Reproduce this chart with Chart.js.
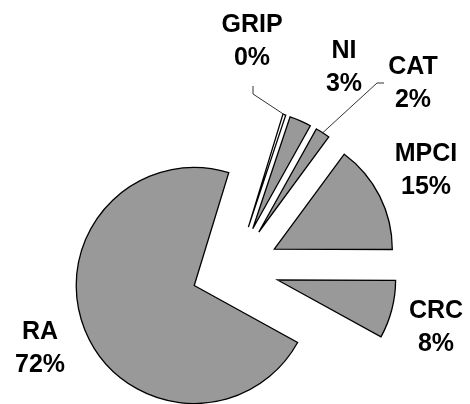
<!DOCTYPE html>
<html>
<head>
<meta charset="utf-8">
<script src="https://cdn.jsdelivr.net/npm/chart.js@4/dist/chart.umd.min.js"></script>
<style>
  html, body { margin: 0; padding: 0; background: #ffffff; }
  #wrap { width: 470px; height: 404px; position: relative; }
</style>
</head>
<body>
<div id="wrap"><canvas id="pie" width="470" height="404"></canvas></div>
<script>
// Share of premium by insurance plan
const plans = ['GRIP', 'NI', 'CAT', 'MPCI', 'CRC', 'RA'];
const shares = [0.4, 3, 2, 15, 8, 72];

// Slice fills: the near-empty GRIP wedge stays white
const sliceFills = ['#ffffff', '#999999', '#999999', '#999999', '#999999', '#999999'];

// Centre of each label block (name line, percent line below it)
const labelCenters = [[252, 25], [344, 51], [413, 67], [426, 154], [436, 311], [40, 332]];
// Leader lines from the wedge tip to the label: list of bend points per plan
const leaders = { GRIP: [[253, 94], [253, 86]], CAT: [[377, 83], [384, 83]] };

const EXPLODE = 44;      // how far every wedge is pulled out from the centre
const RADIUS = 118;
const LINE_GAP = 33;

// Pull each wedge out along its own bisector
const explodePlugin = {
  id: 'explode',
  beforeDatasetDraw(chart, args) {
    const ctx = chart.ctx;
    args.meta.data.forEach(arc => {
      const mid = (arc.startAngle + arc.endAngle) / 2;
      ctx.save();
      ctx.translate(Math.cos(mid) * EXPLODE, Math.sin(mid) * EXPLODE);
      arc.draw(ctx);
      ctx.restore();
    });
    return false;
  }
};

// Category name + rounded percentage, with leader lines for the thin wedges
const labelPlugin = {
  id: 'sliceLabels',
  afterDraw(chart) {
    const ctx = chart.ctx;
    const arcs = chart.getDatasetMeta(0).data;
    const total = shares.reduce((a, b) => a + b, 0);
    ctx.save();
    ctx.strokeStyle = '#333333';
    ctx.lineWidth = 1;
    plans.forEach((name, i) => {
      const bends = leaders[name];
      if (!bends) return;
      const arc = arcs[i];
      const mid = (arc.startAngle + arc.endAngle) / 2;
      const r = EXPLODE + arc.outerRadius;
      ctx.beginPath();
      ctx.moveTo(arc.x + Math.cos(mid) * r, arc.y + Math.sin(mid) * r);
      bends.forEach(p => ctx.lineTo(p[0], p[1]));
      ctx.stroke();
    });
    ctx.fillStyle = '#000000';
    ctx.font = 'bold 25px "Liberation Sans", Arial, sans-serif';
    ctx.textAlign = 'center';
    ctx.textBaseline = 'middle';
    plans.forEach((name, i) => {
      const [x, y] = labelCenters[i];
      const pct = Math.round(shares[i] / total * 100) + '%';
      ctx.fillText(name, x, y);
      ctx.fillText(pct, x, y + LINE_GAP);
    });
    ctx.restore();
  }
};

new Chart(document.getElementById('pie'), {
  type: 'pie',
  data: {
    labels: plans,
    datasets: [{
      data: shares,
      backgroundColor: sliceFills,
      borderColor: '#000000',
      borderWidth: 1.3,
      borderJoinStyle: 'miter'
    }]
  },
  options: {
    responsive: false,
    animation: false,
    events: [],
    rotation: 17,
    radius: RADIUS,
    layout: { padding: { top: 134, bottom: 0, left: 0, right: 0 } },
    plugins: { legend: { display: false }, tooltip: { enabled: false } }
  },
  plugins: [explodePlugin, labelPlugin]
});
</script>
</body>
</html>
